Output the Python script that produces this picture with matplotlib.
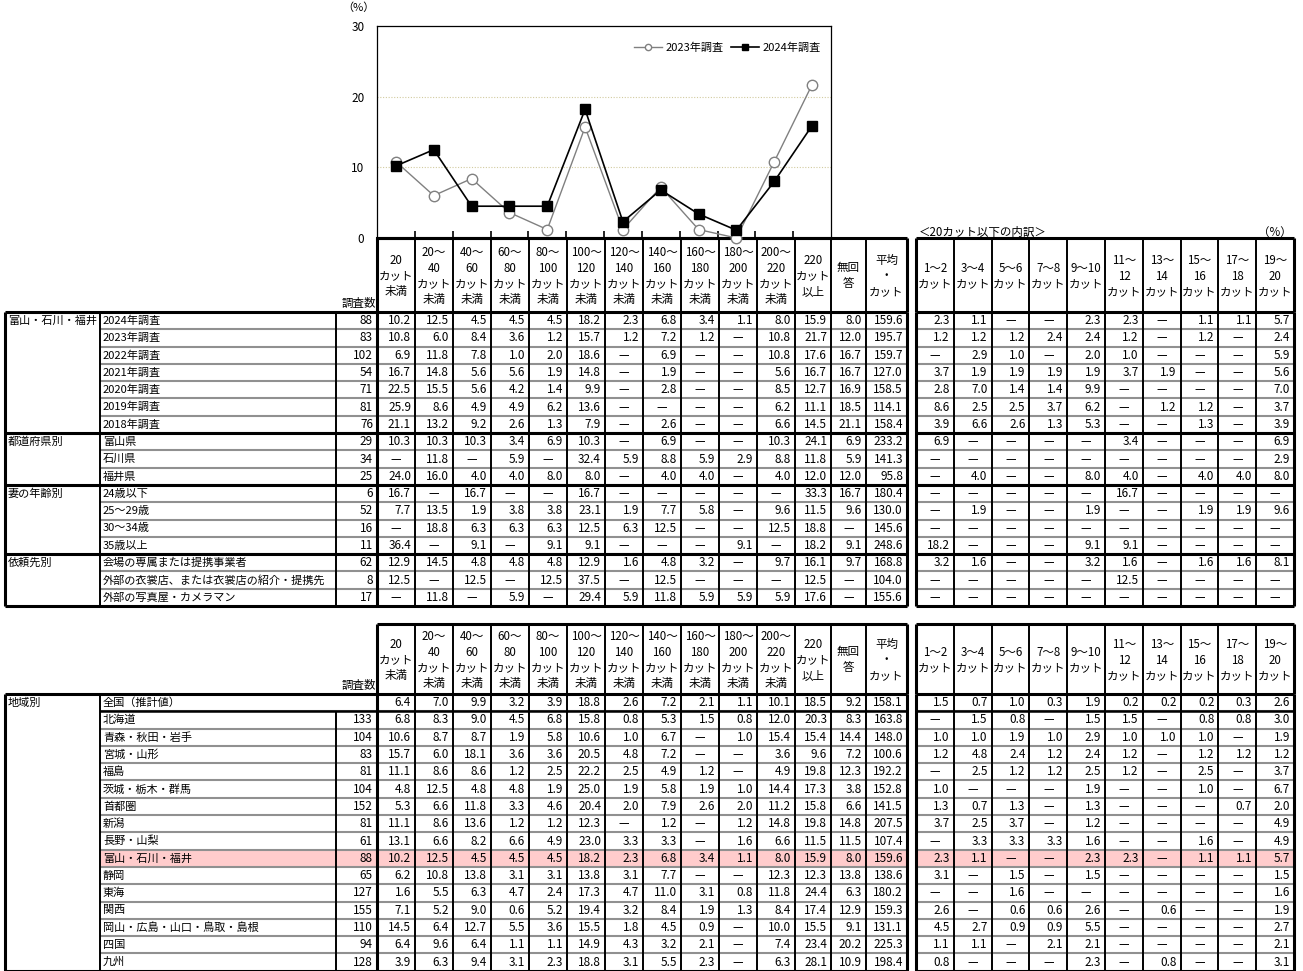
import matplotlib
matplotlib.use("Agg")
import matplotlib.pyplot as plt
from matplotlib.patches import Rectangle

plt.rcParams['font.family'] = ['Noto Sans CJK JP', 'DejaVu Sans']

# ---- chart data (2024 / 2023 survey, share by cut count) ----
chart_cats = ['20未満', '20～40', '40～60', '60～80', '80～100', '100～120',
              '120～140', '140～160', '160～180', '180～200', '200～220', '220以上']
y2023 = [10.8, 6.0, 8.4, 3.6, 1.2, 15.7, 1.2, 7.2, 1.2, 0.0, 10.8, 21.7]
y2024 = [10.2, 12.5, 4.5, 4.5, 4.5, 18.2, 2.3, 6.8, 3.4, 1.1, 8.0, 15.9]

# ---- table headers ----
left_heads = ['20\nカット\n未満', '20～\n40\nカット\n未満', '40～\n60\nカット\n未満',
              '60～\n80\nカット\n未満', '80～\n100\nカット\n未満', '100～\n120\nカット\n未満',
              '120～\n140\nカット\n未満', '140～\n160\nカット\n未満', '160～\n180\nカット\n未満',
              '180～\n200\nカット\n未満', '200～\n220\nカット\n未満', '220\nカット\n以上',
              '無回\n答', '平均\n・\nカット']
right_heads = ['1～2\nカット', '3～4\nカット', '5～6\nカット', '7～8\nカット', '9～10\nカット',
               '11～\n12\nカット', '13～\n14\nカット', '15～\n16\nカット', '17～\n18\nカット',
               '19～\n20\nカット']

# ---- top table ----
top_groups = [('富山・石川・福井', 7), ('都道府県別', 3), ('妻の年齢別', 4), ('依頼先別', 3)]
top_labels = ['2024年調査', '2023年調査', '2022年調査', '2021年調査', '2020年調査',
              '2019年調査', '2018年調査', '富山県', '石川県', '福井県', '24歳以下',
              '25～29歳', '30～34歳', '35歳以上', '会場の専属または提携事業者',
              '外部の衣裳店、または衣裳店の紹介・提携先', '外部の写真屋・カメラマン']
top_n = [88, 83, 102, 54, 71, 81, 76, 29, 34, 25, 6, 52, 16, 11, 62, 8, 17]
N = None
top_vals = [
    [10.2, 12.5, 4.5, 4.5, 4.5, 18.2, 2.3, 6.8, 3.4, 1.1, 8.0, 15.9, 8.0, 159.6],
    [10.8, 6.0, 8.4, 3.6, 1.2, 15.7, 1.2, 7.2, 1.2, N, 10.8, 21.7, 12.0, 195.7],
    [6.9, 11.8, 7.8, 1.0, 2.0, 18.6, N, 6.9, N, N, 10.8, 17.6, 16.7, 159.7],
    [16.7, 14.8, 5.6, 5.6, 1.9, 14.8, N, 1.9, N, N, 5.6, 16.7, 16.7, 127.0],
    [22.5, 15.5, 5.6, 4.2, 1.4, 9.9, N, 2.8, N, N, 8.5, 12.7, 16.9, 158.5],
    [25.9, 8.6, 4.9, 4.9, 6.2, 13.6, N, N, N, N, 6.2, 11.1, 18.5, 114.1],
    [21.1, 13.2, 9.2, 2.6, 1.3, 7.9, N, 2.6, N, N, 6.6, 14.5, 21.1, 158.4],
    [10.3, 10.3, 10.3, 3.4, 6.9, 10.3, N, 6.9, N, N, 10.3, 24.1, 6.9, 233.2],
    [N, 11.8, N, 5.9, N, 32.4, 5.9, 8.8, 5.9, 2.9, 8.8, 11.8, 5.9, 141.3],
    [24.0, 16.0, 4.0, 4.0, 8.0, 8.0, N, 4.0, 4.0, N, 4.0, 12.0, 12.0, 95.8],
    [16.7, N, 16.7, N, N, 16.7, N, N, N, N, N, 33.3, 16.7, 180.4],
    [7.7, 13.5, 1.9, 3.8, 3.8, 23.1, 1.9, 7.7, 5.8, N, 9.6, 11.5, 9.6, 130.0],
    [N, 18.8, 6.3, 6.3, 6.3, 12.5, 6.3, 12.5, N, N, 12.5, 18.8, N, 145.6],
    [36.4, N, 9.1, N, 9.1, 9.1, N, N, N, 9.1, N, 18.2, 9.1, 248.6],
    [12.9, 14.5, 4.8, 4.8, 4.8, 12.9, 1.6, 4.8, 3.2, N, 9.7, 16.1, 9.7, 168.8],
    [12.5, N, 12.5, N, 12.5, 37.5, N, 12.5, N, N, N, 12.5, N, 104.0],
    [N, 11.8, N, 5.9, N, 29.4, 5.9, 11.8, 5.9, 5.9, 5.9, 17.6, N, 155.6],
]
top_sub = [
    [2.3, 1.1, N, N, 2.3, 2.3, N, 1.1, 1.1, 5.7],
    [1.2, 1.2, 1.2, 2.4, 2.4, 1.2, N, 1.2, N, 2.4],
    [N, 2.9, 1.0, N, 2.0, 1.0, N, N, N, 5.9],
    [3.7, 1.9, 1.9, 1.9, 1.9, 3.7, 1.9, N, N, 5.6],
    [2.8, 7.0, 1.4, 1.4, 9.9, N, N, N, N, 7.0],
    [8.6, 2.5, 2.5, 3.7, 6.2, N, 1.2, 1.2, N, 3.7],
    [3.9, 6.6, 2.6, 1.3, 5.3, N, N, 1.3, N, 3.9],
    [6.9, N, N, N, N, 3.4, N, N, N, 6.9],
    [N, N, N, N, N, N, N, N, N, 2.9],
    [N, 4.0, N, N, 8.0, 4.0, N, 4.0, 4.0, 8.0],
    [N, N, N, N, N, 16.7, N, N, N, N],
    [N, 1.9, N, N, 1.9, N, N, 1.9, 1.9, 9.6],
    [N, N, N, N, N, N, N, N, N, N],
    [18.2, N, N, N, 9.1, 9.1, N, N, N, N],
    [3.2, 1.6, N, N, 3.2, 1.6, N, 1.6, 1.6, 8.1],
    [N, N, N, N, N, 12.5, N, N, N, N],
    [N, N, N, N, N, N, N, N, N, N],
]

# ---- bottom table ----
bottom_groups = [('地域別', 16)]
bottom_labels = ['全国（推計値）', '北海道', '青森・秋田・岩手', '宮城・山形', '福島',
                 '茨城・栃木・群馬', '首都圏', '新潟', '長野・山梨', '富山・石川・福井',
                 '静岡', '東海', '関西', '岡山・広島・山口・鳥取・島根', '四国', '九州']
bottom_n = [None, 133, 104, 83, 81, 104, 152, 81, 61, 88, 65, 127, 155, 110, 94, 128]
bottom_vals = [
    [6.4, 7.0, 9.9, 3.2, 3.9, 18.8, 2.6, 7.2, 2.1, 1.1, 10.1, 18.5, 9.2, 158.1],
    [6.8, 8.3, 9.0, 4.5, 6.8, 15.8, 0.8, 5.3, 1.5, 0.8, 12.0, 20.3, 8.3, 163.8],
    [10.6, 8.7, 8.7, 1.9, 5.8, 10.6, 1.0, 6.7, N, 1.0, 15.4, 15.4, 14.4, 148.0],
    [15.7, 6.0, 18.1, 3.6, 3.6, 20.5, 4.8, 7.2, N, N, 3.6, 9.6, 7.2, 100.6],
    [11.1, 8.6, 8.6, 1.2, 2.5, 22.2, 2.5, 4.9, 1.2, N, 4.9, 19.8, 12.3, 192.2],
    [4.8, 12.5, 4.8, 4.8, 1.9, 25.0, 1.9, 5.8, 1.9, 1.0, 14.4, 17.3, 3.8, 152.8],
    [5.3, 6.6, 11.8, 3.3, 4.6, 20.4, 2.0, 7.9, 2.6, 2.0, 11.2, 15.8, 6.6, 141.5],
    [11.1, 8.6, 13.6, 1.2, 1.2, 12.3, N, 1.2, N, 1.2, 14.8, 19.8, 14.8, 207.5],
    [13.1, 6.6, 8.2, 6.6, 4.9, 23.0, 3.3, 3.3, N, 1.6, 6.6, 11.5, 11.5, 107.4],
    [10.2, 12.5, 4.5, 4.5, 4.5, 18.2, 2.3, 6.8, 3.4, 1.1, 8.0, 15.9, 8.0, 159.6],
    [6.2, 10.8, 13.8, 3.1, 3.1, 13.8, 3.1, 7.7, N, N, 12.3, 12.3, 13.8, 138.6],
    [1.6, 5.5, 6.3, 4.7, 2.4, 17.3, 4.7, 11.0, 3.1, 0.8, 11.8, 24.4, 6.3, 180.2],
    [7.1, 5.2, 9.0, 0.6, 5.2, 19.4, 3.2, 8.4, 1.9, 1.3, 8.4, 17.4, 12.9, 159.3],
    [14.5, 6.4, 12.7, 5.5, 3.6, 15.5, 1.8, 4.5, 0.9, N, 10.0, 15.5, 9.1, 131.1],
    [6.4, 9.6, 6.4, 1.1, 1.1, 14.9, 4.3, 3.2, 2.1, N, 7.4, 23.4, 20.2, 225.3],
    [3.9, 6.3, 9.4, 3.1, 2.3, 18.8, 3.1, 5.5, 2.3, N, 6.3, 28.1, 10.9, 198.4],
]
bottom_sub = [
    [1.5, 0.7, 1.0, 0.3, 1.9, 0.2, 0.2, 0.2, 0.3, 2.6],
    [N, 1.5, 0.8, N, 1.5, 1.5, N, 0.8, 0.8, 3.0],
    [1.0, 1.0, 1.9, 1.0, 2.9, 1.0, 1.0, 1.0, N, 1.9],
    [1.2, 4.8, 2.4, 1.2, 2.4, 1.2, N, 1.2, 1.2, 1.2],
    [N, 2.5, 1.2, 1.2, 2.5, 1.2, N, 2.5, N, 3.7],
    [1.0, N, N, N, 1.9, N, N, 1.0, N, 6.7],
    [1.3, 0.7, 1.3, N, 1.3, N, N, N, 0.7, 2.0],
    [3.7, 2.5, 3.7, N, 1.2, N, N, N, N, 4.9],
    [N, 3.3, 3.3, 3.3, 1.6, N, N, 1.6, N, 4.9],
    [2.3, 1.1, N, N, 2.3, 2.3, N, 1.1, 1.1, 5.7],
    [3.1, N, 1.5, N, 1.5, N, N, N, N, 1.5],
    [N, N, 1.6, N, N, N, N, N, N, 1.6],
    [2.6, N, 0.6, 0.6, 2.6, N, 0.6, N, N, 1.9],
    [4.5, 2.7, 0.9, 0.9, 5.5, N, N, N, N, 2.7],
    [1.1, 1.1, N, 2.1, 2.1, N, N, N, N, 2.1],
    [0.8, N, N, N, 2.3, N, 0.8, N, N, 3.1],
]
highlight = '富山・石川・福井'

# ---- layout (pixels) ----
W, H = 1303, 971
X_CAT, X_LAB, X_N = 5, 100, 336
lcols = [377, 415, 453, 491, 529, 567, 605, 643, 681, 719, 757, 795, 831, 866, 907]
rcols = [916 + 37.8 * i for i in range(11)]
RH = 17.3
GRAY = '#909090'
PINK = '#ffcccc'
FS = 8.5
FL = 8.0
THIN, THICK = 1.4, 2.2

fig = plt.figure(figsize=(W / 100, H / 100), dpi=100)
tab = fig.add_axes([0, 0, 1, 1])
tab.set_xlim(0, W)
tab.set_ylim(H, 0)
tab.axis('off')


def fmt(v):
    return '—' if v is None else f'{v:.1f}'


def put_row(yc, vals, cols):
    for j, v in enumerate(vals):
        if v is None:
            tab.text((cols[j] + cols[j + 1]) / 2, yc, '—', ha='center', va='center', fontsize=FS)
        else:
            tab.text(cols[j + 1] - 4, yc, fmt(v), ha='right', va='center', fontsize=FS)


def draw_header(y0, y1):
    tab.hlines(y0, lcols[0], lcols[-1], color='black', lw=THICK)
    tab.hlines(y0, rcols[0], rcols[-1], color='black', lw=THICK)
    for c in lcols[1:-1]:
        tab.vlines(c, y0, y1, color='black', lw=THIN)
    for c in rcols[1:-1]:
        tab.vlines(c, y0, y1, color='black', lw=THIN)
    for c in (lcols[0], lcols[-1], rcols[0], rcols[-1]):
        tab.vlines(c, y0, y1, color='black', lw=THICK)
    yc = (y0 + y1) / 2 + 1
    for j, t in enumerate(left_heads):
        tab.text((lcols[j] + lcols[j + 1]) / 2, yc, t, ha='center', va='center',
                 fontsize=8.3, linespacing=1.3)
    for j, t in enumerate(right_heads):
        tab.text((rcols[j] + rcols[j + 1]) / 2, yc, t, ha='center', va='center',
                 fontsize=8.3, linespacing=1.3)
    tab.text(lcols[0] - 1, y1 - 9, '調査数', ha='right', va='center', fontsize=8.3)


def draw_body(y0, groups, labels, ns, vals, subs):
    nrows = len(labels)
    y1 = y0 + nrows * RH
    for i, lab in enumerate(labels):
        yt = y0 + i * RH
        if lab == highlight and len(groups) == 1:
            tab.add_patch(Rectangle((X_LAB, yt), lcols[-1] - X_LAB, RH, color=PINK, lw=0))
            tab.add_patch(Rectangle((rcols[0], yt), rcols[-1] - rcols[0], RH, color=PINK, lw=0))
    for i in range(1, nrows):
        y = y0 + i * RH
        tab.hlines(y, X_LAB, lcols[-1], color=GRAY, lw=1.5)
        tab.hlines(y, rcols[0], rcols[-1], color=GRAY, lw=1.5)
    # group boundaries
    start = 0
    for name, size in groups:
        yt = y0 + start * RH
        tab.hlines(yt, X_CAT, lcols[-1], color='black', lw=THICK)
        tab.hlines(yt, rcols[0], rcols[-1], color='black', lw=THICK)
        tab.text(X_CAT + 3, yt + RH / 2, name, ha='left', va='center', fontsize=FL)
        start += size
    tab.hlines(y1, X_CAT, lcols[-1], color='black', lw=THICK)
    tab.hlines(y1, rcols[0], rcols[-1], color='black', lw=THICK)
    # national total row in bottom table: black rule below
    if ns[0] is None:
        tab.hlines(y0 + RH, X_LAB, lcols[-1], color='black', lw=1.8)
        tab.hlines(y0 + RH, rcols[0], rcols[-1], color='black', lw=1.8)
    # verticals
    tab.vlines(X_CAT, y0, y1, color='black', lw=THICK)
    tab.vlines(X_LAB, y0, y1, color='black', lw=THIN)
    n_top = y0 + RH if ns[0] is None else y0
    tab.vlines(X_N, n_top, y1, color='black', lw=THIN)
    for c in lcols[1:-1]:
        tab.vlines(c, y0, y1, color='black', lw=THIN)
    for c in rcols[1:-1]:
        tab.vlines(c, y0, y1, color='black', lw=THIN)
    for c in (lcols[0], lcols[-1], rcols[0], rcols[-1]):
        tab.vlines(c, y0, y1, color='black', lw=THICK)
    for i in range(nrows):
        yc = y0 + (i + 0.5) * RH
        tab.text(X_LAB + 3, yc, labels[i], ha='left', va='center', fontsize=FL)
        if ns[i] is not None:
            tab.text(X_N + 37, yc, str(ns[i]), ha='right', va='center', fontsize=FS)
        put_row(yc, vals[i], lcols)
        put_row(yc, subs[i], rcols)


# ---- line chart ----
CX0, CX1, CY0, CY1 = 377, 831, 26, 238
ax = fig.add_axes([CX0 / W, 1 - CY1 / H, (CX1 - CX0) / W, (CY1 - CY0) / H])
ax.set_facecolor('none')
xs = range(len(chart_cats))
ax.plot(xs, y2023, color='#808080', lw=1, marker='o', ms=7.5, mfc='white',
        mec='#808080', mew=1, label='2023年調査', zorder=3, clip_on=False)
ax.plot(xs, y2024, color='black', lw=1.2, marker='s', ms=7.5, mfc='black',
        mec='black', label='2024年調査', zorder=4, clip_on=False)
for v in (10, 20):
    ax.axhline(v, color='#d2cba0', lw=0.8, ls=(0, (1, 1.5)), zorder=1)
ax.set_xlim(-0.5, len(chart_cats) - 0.5)
ax.set_ylim(0, 30)
ax.set_yticks([0, 10, 20, 30])
ax.set_xticks([i + 0.5 for i in range(len(chart_cats) - 1)])
ax.set_xticklabels([])
ax.tick_params(axis='x', direction='in', length=5, width=1.2)
ax.tick_params(axis='y', length=0, labelsize=8.5, pad=9)
for s in ('left', 'top', 'right'):
    ax.spines[s].set_linewidth(0.9)
ax.spines['bottom'].set_linewidth(THICK)
ax.legend(loc='upper right', ncol=2, frameon=False, fontsize=8, markerscale=0.6,
          handlelength=2.6, columnspacing=0.6, handletextpad=0.3,
          bbox_to_anchor=(1.0, 0.97))
tab.text(358, 8, '（%）', ha='center', va='center', fontsize=8)

# ---- tables ----
draw_header(238, 312)
tab.text(rcols[0] + 3, 232, '＜20カット以下の内訳＞', ha='left', va='center', fontsize=8.3)
tab.text(rcols[-1] - 2, 232, '（%）', ha='right', va='center', fontsize=8.3)
draw_body(312, top_groups, top_labels, top_n, top_vals, top_sub)

draw_header(624, 694)
draw_body(694, bottom_groups, bottom_labels, bottom_n, bottom_vals, bottom_sub)

fig.savefig('out.png', dpi=100)
